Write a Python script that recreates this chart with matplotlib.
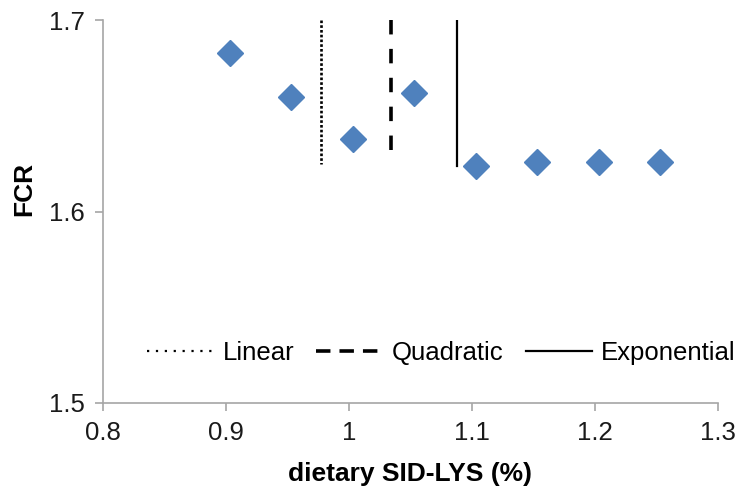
import matplotlib
matplotlib.use("Agg")
from matplotlib import pyplot as plt
from matplotlib.lines import Line2D

plt.rcParams['font.family'] = ['Liberation Sans', 'DejaVu Sans']

# dietary SID-LYS (%) and observed FCR
lys = [0.903, 0.953, 1.003, 1.053, 1.103, 1.153, 1.203, 1.253]
fcr = [1.683, 1.660, 1.638, 1.662, 1.624, 1.626, 1.626, 1.626]

# break points from the three models
models = ['Linear', 'Quadratic', 'Exponential']
breaks = [0.977, 1.034, 1.088]
line_bottom = [1.625, 1.625, 1.624]
line_top = 1.70

xticks = [0.8, 0.9, 1.0, 1.1, 1.2, 1.3]
xtick_labels = ['0.8', '0.9', '1', '1.1', '1.2', '1.3']
yticks = [1.5, 1.6, 1.7]

grey = '#a6a6a6'
blue = '#4f81bd'

fig = plt.figure(figsize=(7.4, 4.92), dpi=100)
ax = fig.add_axes([103/740, 1 - 403/492, 615/740, 383/492])

ax.plot(lys, fcr, linestyle='none', marker='D', markersize=13.5,
        color=blue, markeredgecolor=blue, zorder=3)

styles = [dict(linestyle=(0, (1, 0.8)), linewidth=1.9),
          dict(linestyle=(0, (4, 4)), linewidth=2.6),
          dict(linestyle='-', linewidth=1.6)]
for xb, yb, st in zip(breaks, line_bottom, styles):
    ax.plot([xb, xb], [line_top, yb], color='black', **st)

ax.set_xlim(0.8, 1.3)
ax.set_ylim(1.5, 1.7)
ax.set_xticks(xticks)
ax.set_xticklabels(xtick_labels)
ax.set_yticks(yticks)
ax.set_yticklabels(['%.1f' % v for v in yticks])

for s in ['top', 'right']:
    ax.spines[s].set_visible(False)
for s in ['left', 'bottom']:
    ax.spines[s].set_color(grey)
    ax.spines[s].set_linewidth(1.2)
ax.tick_params(direction='out', length=6, width=1.2, color=grey,
               labelsize=18.5, labelcolor='#1a1a1a', pad=7)

ax.set_xlabel('dietary SID-LYS (%)', fontsize=19, fontweight='bold', labelpad=12)
ax.set_ylabel('FCR', fontsize=19, fontweight='bold')
ax.yaxis.set_label_coords(-0.109, 0.56)

handles = [Line2D([], [], color='black', linestyle=(0, (1, 3)), linewidth=1.6),
           Line2D([], [], color='black', linestyle=(0, (4, 2.5)), linewidth=2.6),
           Line2D([], [], color='black', linestyle='-', linewidth=1.6)]
fig.legend(handles, models, loc='center left', bbox_to_anchor=(147/740, 1 - 353/492),
           ncol=3, frameon=False, fontsize=18.5, handlelength=2.6, handletextpad=0.35,
           columnspacing=0.85, borderpad=0, borderaxespad=0)

fig.savefig('out.png', dpi=100)
